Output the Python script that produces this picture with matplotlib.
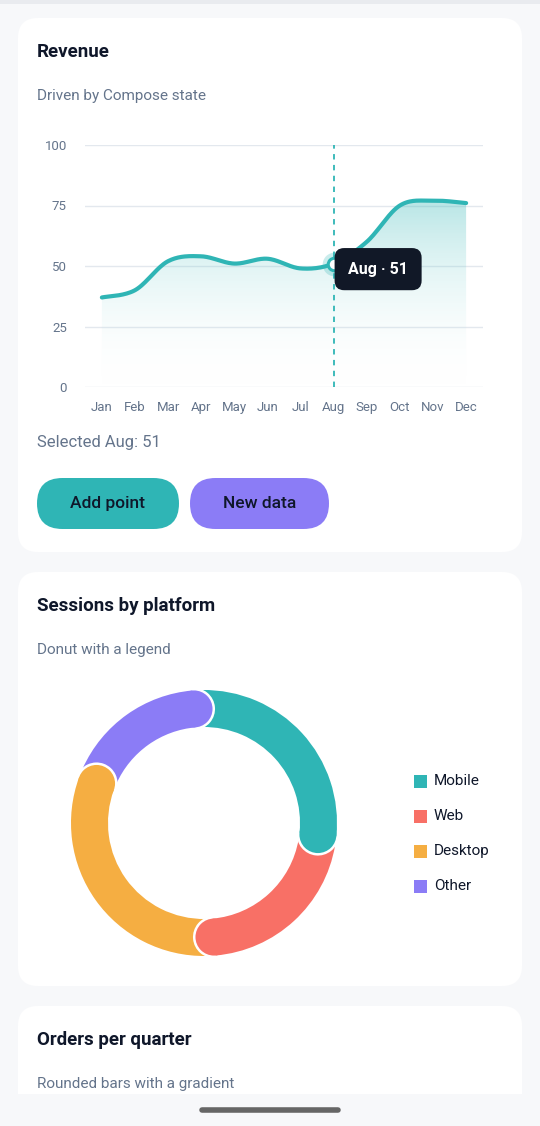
import numpy as np
import matplotlib

matplotlib.use("Agg")
import matplotlib.pyplot as plt
from matplotlib.patches import FancyBboxPatch, Polygon, Wedge, Rectangle, Circle

plt.rcParams["font.family"] = ["Roboto", "DejaVu Sans"]

W, H = 540, 1126

MONTHS = ["Jan", "Feb", "Mar", "Apr", "May", "Jun", "Jul", "Aug", "Sep", "Oct", "Nov", "Dec"]
REVENUE = [37, 40, 52, 54, 51, 53, 49, 51, 60, 75, 77, 76]
SELECTED = 7
Y_TICKS = [0, 25, 50, 75, 100]

PLATFORMS = ["Mobile", "Web", "Desktop", "Other"]
SHARES = [28, 22, 32, 18]

TEAL = "#2fb5b5"
PURPLE = "#8b7cf6"
DONUT_COLORS = [TEAL, "#f87066", "#f5ae42", PURPLE]
INK = "#0f172a"
MUTED = "#64748b"
BG = "#f7f8fa"


def fig_rect(x0, y0, x1, y1):
    # pixel box (top-left origin) -> figure coords
    return [x0 / W, 1 - y1 / H, (x1 - x0) / W, (y1 - y0) / H]


def catmull(xs, ys, n=30):
    px = np.r_[xs[0], xs, xs[-1]]
    py = np.r_[ys[0], ys, ys[-1]]
    ox, oy = [], []
    for i in range(1, len(px) - 2):
        t = np.linspace(0, 1, n, endpoint=False)
        for p, out in ((px, ox), (py, oy)):
            p0, p1, p2, p3 = p[i - 1], p[i], p[i + 1], p[i + 2]
            out.extend(0.5 * (2 * p1 + (-p0 + p2) * t + (2 * p0 - 5 * p1 + 4 * p2 - p3) * t**2
                              + (-p0 + 3 * p1 - 3 * p2 + p3) * t**3))
    ox.append(xs[-1])
    oy.append(ys[-1])
    return np.array(ox), np.array(oy)


fig = plt.figure(figsize=(W / 100, H / 100), dpi=100, facecolor=BG)

# ---- page chrome: cards, headings, buttons ----
bg = fig.add_axes([0, 0, 1, 1])
bg.set_xlim(0, W)
bg.set_ylim(H, 0)
bg.axis("off")
bg.add_patch(Rectangle((0, 0), W, 4, color="#e9ebef", lw=0))
for y0, y1 in ((18, 552), (572, 986), (1006, 1130)):
    bg.add_patch(FancyBboxPatch((18, y0), 504, y1 - y0, boxstyle="round,pad=0,rounding_size=20",
                                fc="white", ec="none"))
bg.add_patch(Rectangle((0, 1094), W, 40, color=BG, lw=0))
bg.plot([202, 338], [1110, 1110], color="#666666", lw=4, solid_capstyle="round")

for y, title, sub in ((52, "Revenue", "Driven by Compose state"),
                      (606, "Sessions by platform", "Donut with a legend"),
                      (1040, "Orders per quarter", "Rounded bars with a gradient")):
    bg.text(37, y, title, fontsize=13.5, fontweight="bold", color=INK, va="center")
    bg.text(37, y + 44, sub, fontsize=11, color=MUTED, va="center")

bg.text(37, 442, f"Selected {MONTHS[SELECTED]}: {REVENUE[SELECTED]}", fontsize=12, color=MUTED, va="center")
for x0, x1, col, label in ((37, 179, TEAL, "Add point"), (190, 329, PURPLE, "New data")):
    bg.add_patch(FancyBboxPatch((x0, 478), x1 - x0, 51, boxstyle="round,pad=0,rounding_size=25.5",
                                fc=col, ec="none"))
    bg.text((x0 + x1) / 2, 503.5, label, fontsize=12.5, fontweight="medium", color=INK,
            ha="center", va="center")

# ---- line chart ----
ax = fig.add_axes(fig_rect(85, 145, 483, 387))
ax.set_xlim(-0.51, 11.51)
ax.set_ylim(0, 100)
ax.patch.set_alpha(0)
for s in ax.spines.values():
    s.set_visible(False)
ax.set_yticks(Y_TICKS)
ax.set_xticks(range(len(MONTHS)))
ax.set_xticklabels(MONTHS)
ax.tick_params(length=0, labelsize=9.5, labelcolor=MUTED, pad=10)
ax.tick_params(axis="y", pad=13)
ax.grid(True, axis="y", color="#e3e8ee", lw=1)
ax.set_axisbelow(True)

sx, sy = catmull(np.arange(len(REVENUE)), np.array(REVENUE, float))
grad = np.linspace(0, 1, 256).reshape(-1, 1)
img = ax.imshow(grad, extent=[-0.51, 11.51, 0, max(REVENUE)], origin="lower", aspect="auto",
                cmap=matplotlib.colors.LinearSegmentedColormap.from_list(
                    "g", [(1, 1, 1, 0), (0.18, 0.71, 0.71, 0.34)]), zorder=1)
poly = Polygon(np.c_[np.r_[sx, sx[-1], sx[0]], np.r_[sy, 0, 0]], closed=True, transform=ax.transData)
img.set_clip_path(poly)
ax.plot(sx, sy, color=TEAL, lw=3, zorder=3, solid_capstyle="round")
ax.axvline(SELECTED, color=TEAL, lw=1.3, ls=(0, (3, 3)), zorder=2)
ax.plot(SELECTED, REVENUE[SELECTED], "o", ms=17, color=TEAL, alpha=0.25, mec="none", zorder=4)
ax.plot(SELECTED, REVENUE[SELECTED], "o", ms=9, mfc="white", mec=TEAL, mew=2.2, zorder=5)
ax.annotate(f"{MONTHS[SELECTED]} · {REVENUE[SELECTED]}", (SELECTED, REVENUE[SELECTED]),
            textcoords="offset points", xytext=(32, -4), ha="center", va="center",
            fontsize=11.5, fontweight="bold", color="white", zorder=6,
            bbox=dict(boxstyle="round,pad=0.85,rounding_size=0.6", fc="#111827", ec="none"))

# ---- donut ----
dx = fig.add_axes(fig_rect(60, 679, 348, 967))
dx.set_xlim(-144, 144)
dx.set_ylim(-144, 144)
dx.axis("off")
R_OUT, R_IN = 133, 96
R_MID, HALF = (R_OUT + R_IN) / 2, (R_OUT - R_IN) / 2
CAP_SHIFT = 5.0  # pull each end back so the round cap tip sits near the boundary
start = 90.0
ends = []
for share, col in zip(SHARES, DONUT_COLORS):
    sweep = share / sum(SHARES) * 360
    cap_ang = start - sweep + CAP_SHIFT
    dx.add_patch(Wedge((0, 0), R_OUT, cap_ang, start + 1, width=R_OUT - R_IN, fc=col, ec="none"))
    start -= sweep
    ends.append((cap_ang, col))
for ang, col in ends:
    c = (R_MID * np.cos(np.radians(ang)), R_MID * np.sin(np.radians(ang)))
    # round end cap; white halo only on the forward (clockwise) half
    dx.add_patch(Wedge(c, HALF + 2.5, ang - 180, ang, fc="white", ec="none"))
    dx.add_patch(Circle(c, HALF, fc=col, ec="none"))

for i, (name, col) in enumerate(zip(PLATFORMS, DONUT_COLORS)):
    y = 781 + 35 * i
    bg.add_patch(Rectangle((414, y - 6.5), 13, 13, color=col, lw=0))
    bg.text(434, y, name, fontsize=11, color=INK, va="center")

fig.savefig("out.png", dpi=100, facecolor=BG)
